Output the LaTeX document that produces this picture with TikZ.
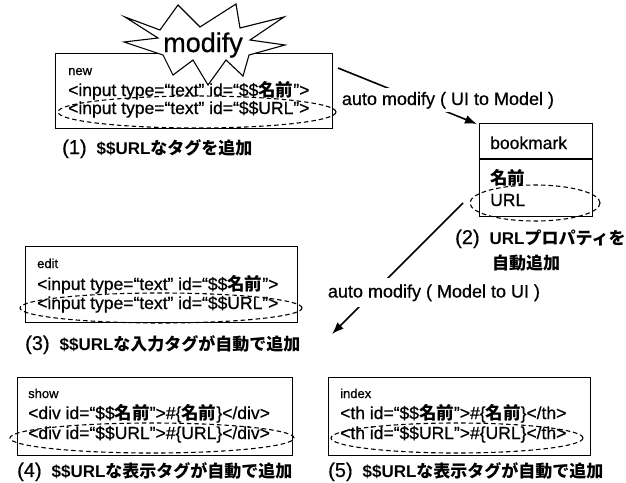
\documentclass[tikz,border=0pt]{standalone}
\usepackage{fontspec}
\setmainfont{Liberation Sans}[UprightFeatures={FakeBold=0.6}]
\newfontfamily\jpf{Noto Sans CJK JP}
\usetikzlibrary{arrows.meta}
\newcommand{\jb}[1]{{\jpf\bfseries #1}}
\newcommand{\labtxt}[2]{{\fontsize{20}{22}\selectfont(#1)}\hspace{10pt}{\fontsize{17}{19}\selectfont\bfseries #2}}
\tikzset{
 box/.style={draw, line width=1.1pt, fill=white, inner sep=0pt, anchor=north west},
 codeline/.style={font=\fontsize{17.5}{20}\selectfont, anchor=base west, inner sep=0pt},
 smalltxt/.style={font=\fontsize{13}{15}\selectfont, anchor=base west, inner sep=0pt},
 lbl/.style={anchor=base west, inner sep=0pt},
 dsh/.style={dash pattern=on 4.5pt off 3pt, line width=1.1pt},
 arr/.style={line width=1.6pt, -{Latex[length=12pt,width=9pt]}},
 albl/.style={font=\fontsize{18}{20}\selectfont, fill=white, inner xsep=3pt, anchor=base}
}
\begin{document}
\begin{tikzpicture}[x=1pt,y=-1pt]
\useasboundingbox[fill=white] (0,0) rectangle (626,482);

% ---- new box
\node[box, minimum width=277pt, minimum height=75pt] (new) at (55,53) {};
\draw[line width=1.1pt, fill=white] (125,17) -- (160,30) -- (178,5) -- (200,27) -- (236,4) -- (240,28) -- (284,17) -- (250,40) -- (285,45) -- (249,55) -- (243,76) -- (226,60) -- (208,85) -- (193,60) -- (173,75) -- (163,55) -- (124,42) -- (158,38) -- cycle;
\node[font=\fontsize{27}{30}\selectfont, anchor=base, inner sep=0pt] (modify) at (203,52) {modify};
\node[smalltxt] (newt) at (68,75) {new};
\node[codeline] (new1) at (68,96) {<input type=“text” id=“\$\$\jb{名前}”>};
\node[codeline] (new2) at (68,114) {<input type=“text” id=“\$\$URL”>};
\draw[dsh] (197,112) ellipse [x radius=139pt, y radius=16pt];
\node[lbl] (lab1) at (62,154) {\labtxt{1}{\$\$URL\jb{なタグを追加}}};

% ---- bookmark
\node[box, minimum width=113pt, minimum height=93pt] (bm) at (479,123) {};
\draw[line width=1.1pt] (479,159) -- (592,159);
\node[codeline] (bmt) at (490,149) {bookmark};
\node[codeline] (bm1) at (490,184) {\jb{名前}};
\node[codeline] (bm2) at (490,206) {URL};
\draw[dsh] (535,203) ellipse [x radius=65pt, y radius=18pt];
\node[lbl] (lab2) at (455,244) {\labtxt{2}{URL\jb{プロパティを}}};
\node[lbl, font=\fontsize{17}{19}\selectfont] (lab2b) at (492,269) {\jb{自動追加}};

% ---- arrows
\coordinate (a1) at (338,68);
\coordinate (a2) at (477,124);
\draw[arr] (a1) -- (a2);
\node[albl, inner ysep=3.5pt] (alab1) at (448,105) {auto modify ( UI to Model )};
\coordinate (b1) at (463,203);
\coordinate (b2) at (332,334);
\draw[arr] (b1) -- (b2);
\node[albl, inner ysep=6pt] (alab2) at (434,297.5) {auto modify ( Model to UI )};

% ---- edit box
\node[box, minimum width=272pt, minimum height=76pt] (edit) at (25,246) {};
\node[smalltxt] (editt) at (37,268) {edit};
\node[codeline] (edit1) at (37,290) {<input type=“text” id=“\$\$\jb{名前}”>};
\node[codeline] (edit2) at (37,309) {<input type=“text” id=“\$\$URL”>};
\draw[dsh] (161,308) ellipse [x radius=141pt, y radius=15pt];
\node[lbl] (lab3) at (25,350) {\labtxt{3}{\$\$URL\jb{な入力タグが自動で追加}}};

% ---- show box
\node[box, minimum width=275pt, minimum height=78pt] (show) at (17,377) {};
\node[smalltxt] (showt) at (28,398) {show};
\node[codeline] (show1) at (28,419) {<div id=“\$\$\jb{名前}”>\#\{\jb{名前}\}</div>};
\node[codeline] (show2) at (28,439) {<div id=“\$\$URL”>\#\{URL\}</div>};
\draw[dsh] (152,438) ellipse [x radius=142pt, y radius=15pt];
\node[lbl] (lab4) at (17,477) {\labtxt{4}{\$\$URL\jb{な表示タグが自動で追加}}};

% ---- index box
\node[box, minimum width=262pt, minimum height=78pt] (index) at (328,377) {};
\node[smalltxt] (indext) at (340,398) {index};
\node[codeline] (index1) at (340,419) {<th id=“\$\$\jb{名前}”>\#\{\jb{名前}\}</th>};
\node[codeline] (index2) at (340,439) {<th id=“\$\$URL”>\#\{URL\}</th>};
\draw[dsh] (457,438) ellipse [x radius=126pt, y radius=15pt];
\node[lbl] (lab5) at (328,477) {\labtxt{5}{\$\$URL\jb{な表示タグが自動で追加}}};
\end{tikzpicture}
\end{document}
